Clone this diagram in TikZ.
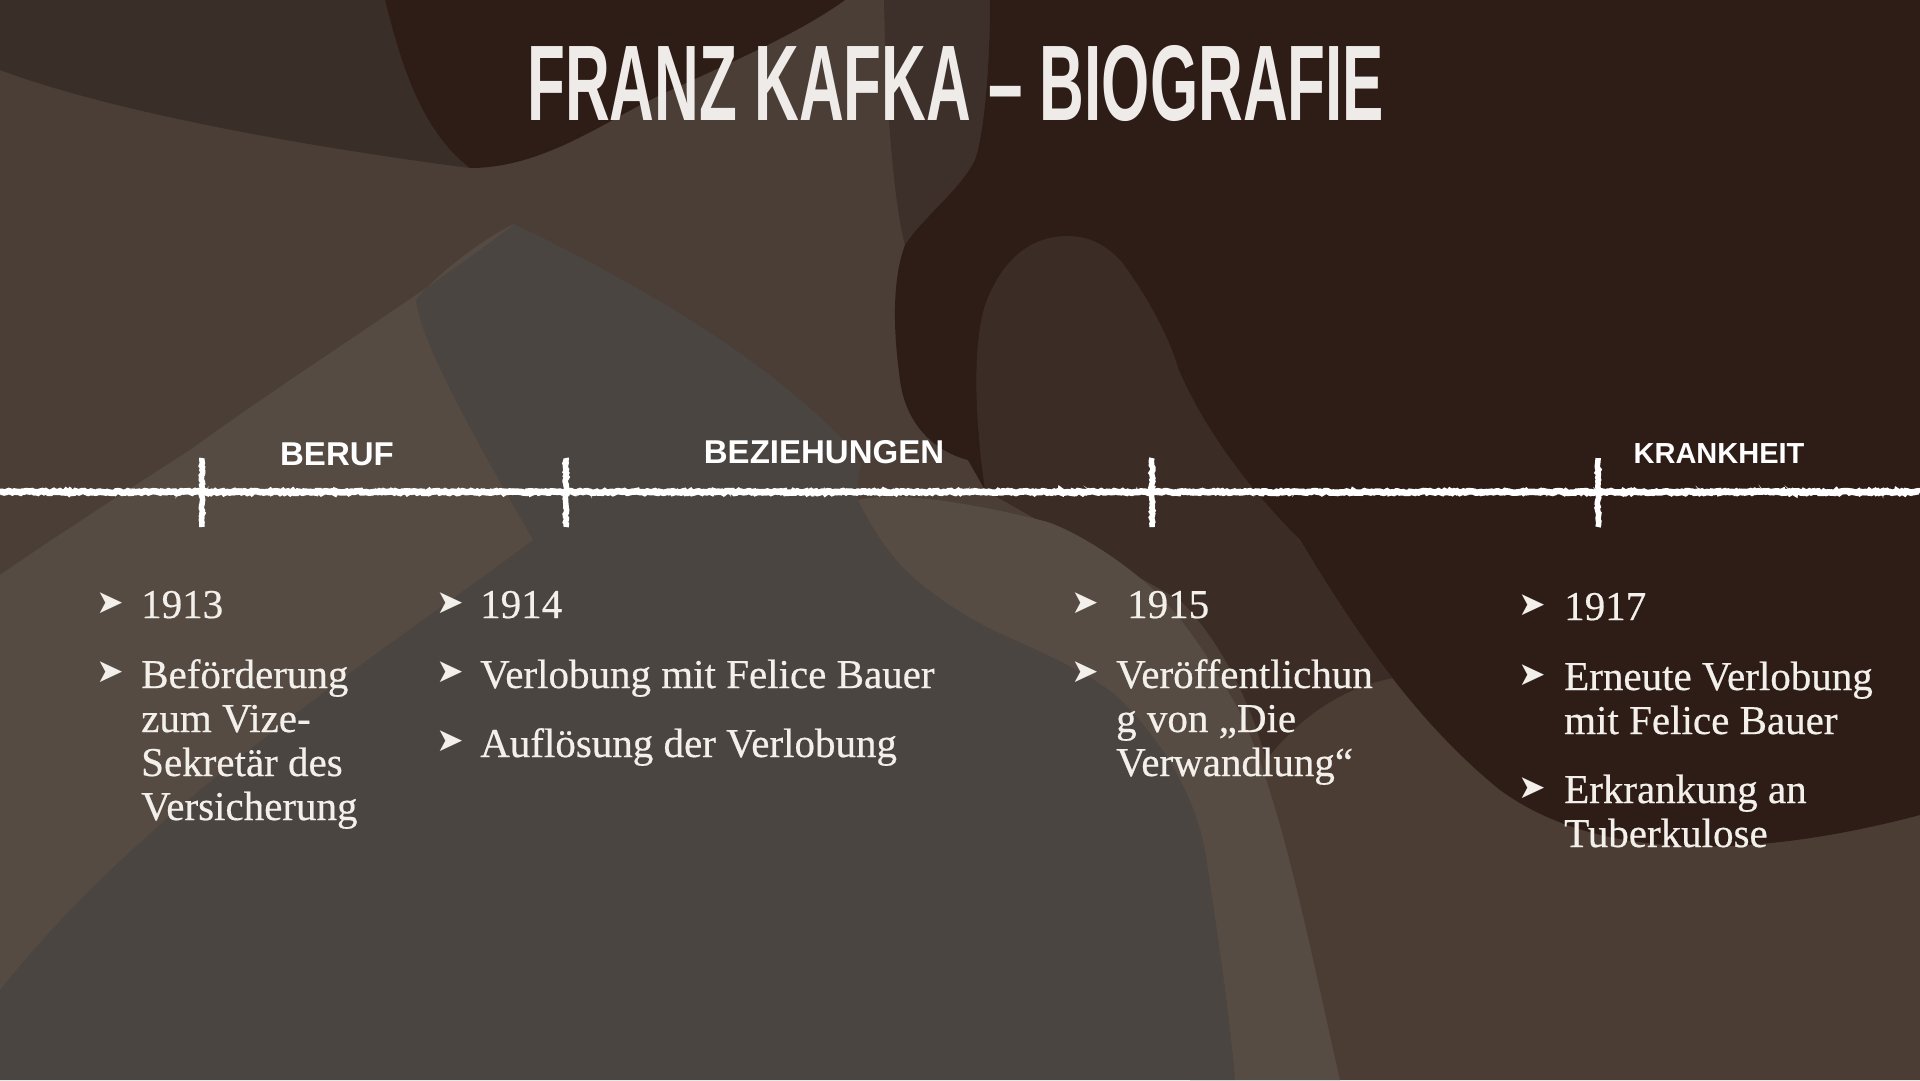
\documentclass[tikz,border=0pt]{standalone}
\usepackage{graphicx}
\usepackage{fontspec}
\setmainfont[FakeBold=0.5]{Liberation Serif}
\newfontfamily\labfont{Liberation Sans}
\newfontfamily\symfont{DejaVu Sans}
\usetikzlibrary{decorations.pathmorphing}
\definecolor{cDark}{HTML}{2E1D17}
\definecolor{cTopLeft}{HTML}{3A2E28}
\definecolor{cBase}{HTML}{4A3E37}
\definecolor{cBand}{HTML}{3D302A}
\definecolor{cGray}{HTML}{4A4541}
\definecolor{cLight}{HTML}{554B43}
\definecolor{cStripe}{HTML}{574C43}
\definecolor{cFinger}{HTML}{3B2D26}
\definecolor{cBR}{HTML}{4B3D34}
\definecolor{cText}{HTML}{F3EFEA}
\definecolor{cTitle}{HTML}{EEEBE8}
\begin{document}
\begin{tikzpicture}[x=1pt,y=-1pt,
  body/.style={text=cText, inner sep=0pt, anchor=base west, align=left, font=\fontsize{41}{44}\selectfont},
  bul/.style={text=cText, inner sep=0pt, anchor=center, font=\symfont\fontsize{33}{33}\selectfont},
  lab/.style={text=white, inner sep=0pt, anchor=center, font=\labfont\bfseries\fontsize{33}{33}\selectfont},
  chalk/.style={draw=white, line width=6.5pt, decorate, decoration={random steps, segment length=2pt, amplitude=1pt}},
  chalkfuzz/.style={draw=white, line width=1.6pt, opacity=0.75, decorate, decoration={random steps, segment length=3pt, amplitude=3pt}},
  tickmark/.style={draw=white, line width=5.5pt, decorate, decoration={random steps, segment length=2pt, amplitude=0.9pt}}
]
\useasboundingbox (0,0) rectangle (1920,1080);
\pgfmathsetseed{7}
% ---------- background ----------
\fill[cBase] (0,0) rectangle (1920,1080);
% top-left darker
\fill[cTopLeft] (0,0) -- (385,0) .. controls (400,60) and (420,130) .. (470,168)
   .. controls (330,150) and (120,115) .. (0,70) -- cycle;
% darkest top blob
\fill[cDark] (385,0) .. controls (400,60) and (420,130) .. (470,168)
   .. controls (540,168) and (600,125) .. (650,100)
   .. controls (700,75) and (790,40) .. (845,0) -- cycle;
% medium band beside the title
\fill[cBand] (884,0) -- (990,0) .. controls (990,60) and (985,130) .. (975,160)
   .. controls (960,190) and (925,215) .. (905,245)
   .. controls (893,200) and (886,100) .. (884,0) -- cycle;
% bottom-right brown
\fill[cBR] (1190,1080) .. controls (1240,800) and (1270,650) .. (1290,520) -- (1920,520) -- (1920,1080) -- cycle;
% right dark region
\fill[cDark] (990,0) -- (1920,0) -- (1920,815)
   .. controls (1780,852) and (1610,870) .. (1500,790)
   .. controls (1420,725) and (1360,640) .. (1300,540)
   -- (1180,600) -- (985,490) -- (968,460)
   .. controls (930,450) and (905,420) .. (900,380)
   .. controls (893,330) and (892,280) .. (905,245)
   .. controls (925,215) and (960,190) .. (975,160)
   .. controls (985,130) and (990,60) .. (990,0) -- cycle;
% finger blob (continues down beside the stripe)
\fill[cFinger] (985,490) .. controls (975,420) and (970,330) .. (991,291)
   .. controls (1010,250) and (1040,236) .. (1067,236)
   .. controls (1095,236) and (1110,250) .. (1121,261)
   .. controls (1150,300) and (1170,340) .. (1178,368)
   .. controls (1200,420) and (1240,480) .. (1300,540)
   .. controls (1330,590) and (1360,636.25) .. (1392.5,678.1)
   .. controls (1330,690) and (1290,730) .. (1266,760)
   .. controls (1250,700) and (1220,640) .. (1180,600) -- cycle;
% gray region
\fill[cGray] (514,224) .. controls (600,265) and (720,330) .. (800,400)
   .. controls (830,425) and (850,445) .. (861,464)
   .. controls (858,480) and (856,490) .. (858,500)
   .. controls (880,545) and (900,565) .. (914,578)
   .. controls (940,600) and (970,620) .. (1006,636)
   .. controls (1060,660) and (1100,680) .. (1121,700)
   .. controls (1170,750) and (1195,800) .. (1205,850)
   .. controls (1220,950) and (1230,1020) .. (1235,1080)
   -- (0,1080) -- (0,990) .. controls (150,800) and (400,640) .. (533,540)
   .. controls (470,430) and (420,340) .. (416,300)
   .. controls (440,270) and (490,235) .. (514,224) -- cycle;
% light cone
\fill[cLight] (514,224) .. controls (490,235) and (440,270) .. (416,300)
   .. controls (420,340) and (470,430) .. (533,540)
   .. controls (400,640) and (150,800) .. (0,990) -- (0,575)
   .. controls (50,540) and (120,495) .. (190,450)
   .. controls (300,370) and (430,290) .. (514,224) -- cycle;
% light stripe
\fill[cStripe] (858,500) .. controls (880,545) and (900,565) .. (914,578)
   .. controls (940,600) and (970,620) .. (1006,636)
   .. controls (1060,660) and (1100,680) .. (1121,700)
   .. controls (1170,750) and (1195,800) .. (1205,850)
   .. controls (1220,950) and (1230,1020) .. (1235,1080)
   -- (1340,1080) .. controls (1310,950) and (1280,790) .. (1236,705)
   .. controls (1210,660) and (1180,610) .. (1140,578)
   .. controls (1100,545) and (1060,525) .. (1044,521)
   .. controls (980,505) and (900,490) .. (858,500) -- cycle;
% ---------- title ----------
\node[anchor=south west, inner sep=0pt, text=cTitle] (title) at (527,122)
  {\resizebox{857pt}{75pt}{\labfont\bfseries FRANZ KAFKA – BIOGRAFIE}};
% ---------- timeline ----------
\coordinate (tlL) at (0,492);
\coordinate (tlR) at (1920,492);
\draw[chalk] (tlL) -- (tlR);
\draw[chalkfuzz] (tlL) -- (tlR);
\foreach \n/\x in {a/202,b/566,c/1152,d/1598}{
  \coordinate (\n top) at (\x,458);
  \coordinate (\n bot) at (\x,527);
  \draw[tickmark] (\n top) -- (\n bot);
}
% ---------- section labels ----------
\node[lab] (beruf) at (337,454) {BERUF};
\node[lab] (bez) at (824,452) {BEZIEHUNGEN};
\node[lab, font=\labfont\bfseries\fontsize{29}{29}\selectfont] (krank) at (1719,454) {KRANKHEIT};
% ---------- column 1 ----------
\node[bul] (b11) at (110,603) {➤};
\node[body] (y1913) at (141,618) {1913};
\node[bul] (b12) at (110,672) {➤};
\node[body] (t12) at (141,820) {Beförderung\\zum Vize-\\Sekretär des\\Versicherung};
% ---------- column 2 ----------
\node[bul] (b21) at (450,603) {➤};
\node[body] (y1914) at (480,618) {1914};
\node[bul] (b22) at (450,672) {➤};
\node[body] (t22) at (480,688) {Verlobung mit Felice Bauer};
\node[bul] (b23) at (450,741) {➤};
\node[body] (t23) at (480,757) {Auflösung der Verlobung};
% ---------- column 3 ----------
\node[bul] (b31) at (1085,603) {➤};
\node[body] (y1915) at (1127,618) {1915};
\node[bul] (b32) at (1085,672) {➤};
\node[body] (t32) at (1116,776) {Veröffentlichun\\g von „Die\\Verwandlung“};
% ---------- column 4 ----------
\node[bul] (b41) at (1532,605) {➤};
\node[body] (y1917) at (1564,620) {1917};
\node[bul] (b42) at (1532,675) {➤};
\node[body] (t42) at (1564,734) {Erneute Verlobung\\mit Felice Bauer};
\node[bul] (b43) at (1532,788) {➤};
\node[body] (t43) at (1564,847) {Erkrankung an\\Tuberkulose};
\end{tikzpicture}
\end{document}
